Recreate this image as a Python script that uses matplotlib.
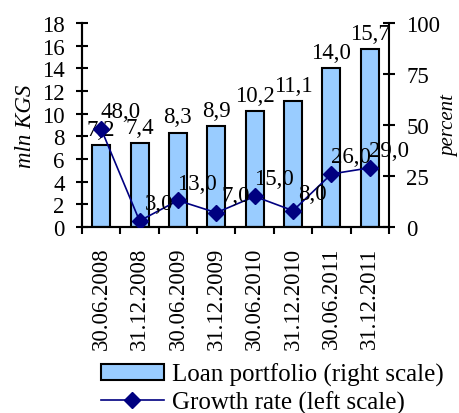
import numpy as np
import matplotlib.pyplot as plt
from matplotlib.patches import Patch
from matplotlib.lines import Line2D

dates = ["30.06.2008", "31.12.2008", "30.06.2009", "31.12.2009",
         "30.06.2010", "31.12.2010", "30.06.2011", "31.12.2011"]
loans = [7.2, 7.4, 8.3, 8.9, 10.2, 11.1, 14.0, 15.7]
growth = [48.0, 3.0, 13.0, 7.0, 15.0, 8.0, 26.0, 29.0]

plt.rcParams['font.family'] = 'Liberation Serif'
plt.rcParams['font.size'] = 16.5

fig = plt.figure(figsize=(4.6, 4.14), dpi=100)
ax = fig.add_axes([82/460, 1-228/414, (389-82)/460, (228-24)/414])
ax2 = ax.twinx()

x = np.arange(len(dates))
ax.bar(x, loans, width=0.47, color='#99ccff', edgecolor='black', linewidth=1.5, zorder=2)
for xi, v in zip(x, loans):
    ax.annotate(f"{v:.1f}".replace('.', ','), (xi, v), xytext=(0, 4),
                textcoords='offset points', ha='center', va='bottom')

ax2.plot(x, growth, color='#000080', marker='D', markersize=8.5, linewidth=1.2, zorder=3)
for xi, g in zip(x, growth):
    ax2.annotate(f"{g:.1f}".replace('.', ','), (xi, g), xytext=(14, 5),
                 textcoords='offset points', ha='center', va='bottom')

ax.set_xlim(-0.5, len(dates) - 0.5)
ax.set_ylim(0, 18)
ax.set_yticks(range(0, 19, 2))
ax2.set_ylim(0, 100)
ax2.set_yticks([0, 25, 50, 75, 100])
ax.set_xticks(np.arange(-0.5, len(dates), 1))
ax.set_xticklabels([])
ax.set_xticks(x, minor=True)
ax.set_xticklabels(dates, minor=True, rotation=90)
ax.tick_params(axis='x', which='minor', length=0, pad=14)
ax.tick_params(axis='x', which='major', direction='out', length=5, width=1.5)
ax.tick_params(axis='y', direction='inout', length=9, width=1.5, pad=8)
ax2.tick_params(axis='y', direction='inout', length=9, width=1.5, pad=8)

for a in (ax, ax2):
    a.spines['top'].set_visible(False)
    for s in ('left', 'right', 'bottom'):
        a.spines[s].set_linewidth(1.5)
ax.spines['right'].set_visible(False)

ax.set_ylabel("mln KGS", style='italic', labelpad=4)
ax2.set_ylabel("percent", style='italic', labelpad=0, fontsize=15)

handles = [Patch(facecolor='#99ccff', edgecolor='black', linewidth=1.5),
           Line2D([], [], color='#000080', marker='D', markersize=8.5, linewidth=1.2)]
fig.legend(handles, ["Loan portfolio (right scale)", "Growth rate (left scale)"],
           loc='upper left', bbox_to_anchor=(101/460, 1-364/414), frameon=False,
           handlelength=2.5, handleheight=0.6, handletextpad=0.35, labelspacing=0.15,
           borderpad=0, borderaxespad=0, fontsize=18)

fig.savefig("out.png", dpi=100)
